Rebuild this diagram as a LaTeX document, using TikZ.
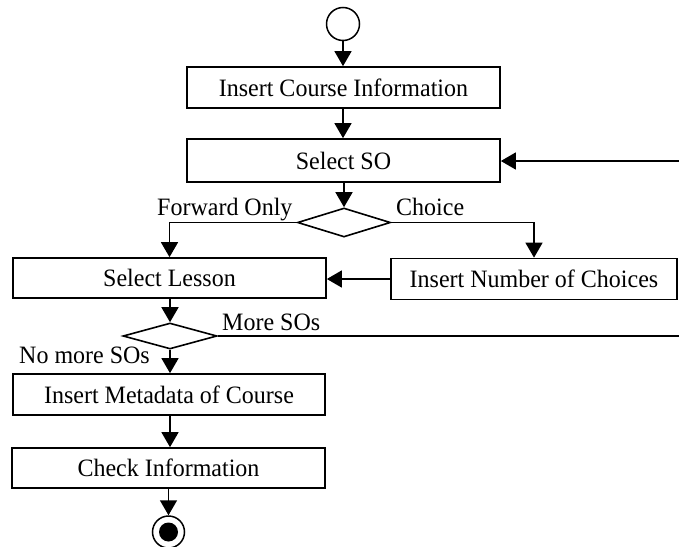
\documentclass[tikz,border=0pt]{standalone}
\usepackage{fontspec}
\setmainfont{Liberation Serif}[FakeStretch=0.96]
\usetikzlibrary{arrows.meta,shapes.geometric}

\tikzset{
  box/.style={draw, line width=1.7pt, rectangle, inner sep=0pt,
              minimum width=313pt, minimum height=41pt},
  choice/.style={draw, line width=1.6pt, diamond, inner sep=0pt,
                 aspect=3.2},
  arr/.style={line width=1.5pt, -{Triangle[length=15pt,width=17pt]}},
  plain/.style={line width=1.5pt},
  lbl/.style={inner sep=0pt, anchor=base west},
}

\begin{document}
\begin{tikzpicture}[x=1pt, y=-1pt, font=\fontsize{25}{30}\selectfont]
  \useasboundingbox (0,0) rectangle (679,546);

  % initial and final states
  \node[draw, circle, line width=1.5pt, minimum size=33pt, inner sep=0pt] (start) at (343,24) {};
  \node[draw, circle, line width=1.5pt, minimum size=32pt, inner sep=0pt] (stop) at (168.5,532) {};
  \node[fill=black, circle, minimum size=19pt, inner sep=0pt] (stopdot) at (stop.center) {};

  % activities
  \node[box] (course) at (343.5,87.5) {Insert Course Information};
  \node[box, minimum height=43pt] (selso) at (343.5,160.5) {Select SO};
  \node[box, minimum height=40pt] (lesson) at (169.5,278) {Select Lesson};
  \node[box, minimum width=286pt] (numch) at (534,279) {Insert Number of Choices};
  \node[box, minimum width=312pt] (meta) at (169,394.5) {Insert Metadata of Course};
  \node[box, minimum height=40pt] (check) at (168.5,468) {Check Information};

  % decisions
  \node[choice, minimum width=93pt, minimum height=29pt] (mode) at (344,222.5) {};
  \node[choice, minimum width=94pt, minimum height=26pt] (more) at (170,336) {};

  % loop back to the SO selection (runs off the right edge)
  \coordinate (loopin) at (679,161);
  \coordinate (loopout) at (679,336);

  % flow
  \draw[arr] (start.south) -- (start.south |- course.north);
  \draw[arr] (course.south -| start.south) -- (start.south |- selso.north);
  \draw[arr] (selso.south -| mode.north) -- (mode.north);
  \draw[arr] (mode.west) -| (lesson.north);
  \draw[arr] (mode.east) -| (numch.north);
  \draw[arr] (numch.west) -- (numch.west -| lesson.east);
  \draw[arr] (lesson.south -| more.north) -- (more.north);
  \draw[plain] (more.east) -- (loopout);
  \draw[arr] (loopin) -- (loopin -| selso.east);
  \draw[arr] (more.south) -- (more.south |- meta.north);
  \draw[arr] (meta.south -| more.south) -- (more.south |- check.north);
  \draw[arr] (check.south -| stop.north) -- (stop.north);

  % guard labels
  \node[lbl] (lfwd) at (157,215) {Forward Only};
  \node[lbl] (lch) at (396,215) {Choice};
  \node[lbl] (lmore) at (222,330) {More SOs};
  \node[lbl] (lnomore) at (19,363) {No more SOs};
\end{tikzpicture}
\end{document}
